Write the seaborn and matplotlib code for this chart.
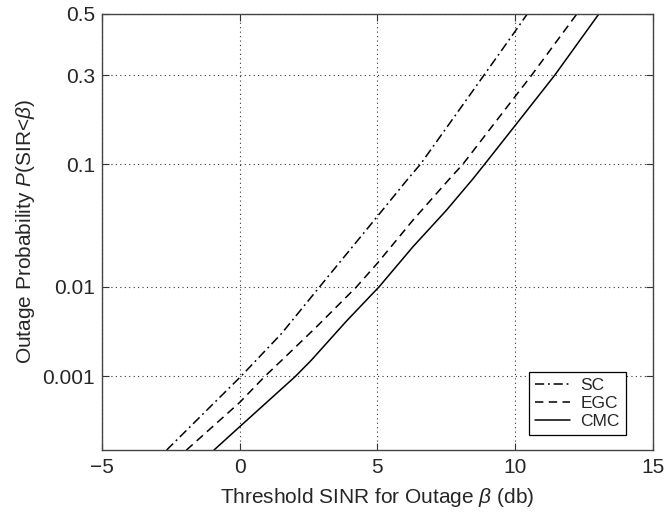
import numpy as np
import pandas as pd
import matplotlib
matplotlib.use("Agg")
import matplotlib.pyplot as plt
import seaborn as sns
from statistics import NormalDist

# ---- data ----
sc_x = [-2.65, 0.05, 1.52, 2.91, 4.0, 5.0, 6.12, 6.57, 8.87, 10.0, 10.45]
sc_p = [1e-4, 1e-3, 3.2e-3, 0.01, 0.022, 0.042, 0.08, 0.1, 0.3, 0.44, 0.5]

egc_x = [-1.93, 0.0, 0.92, 1.64, 2.79, 4.25, 5.0, 6.30, 7.63, 8.11, 10.0, 10.60, 12.25]
egc_p = [1e-4, 4.6e-4, 1e-3, 1.7e-3, 3.8e-3, 0.01, 0.0167, 0.0394, 0.08, 0.1, 0.24, 0.3, 0.5]

cmc_x = [-0.93, 0.0, 2.03, 2.61, 3.88, 5.07, 6.30, 7.51, 8.48, 8.90, 10.0, 11.44, 13.05]
cmc_p = [1e-4, 2.15e-4, 1e-3, 1.58e-3, 4.4e-3, 0.01, 0.0236, 0.047, 0.08, 0.1, 0.17, 0.3, 0.5]

series_names = ["SC", "EGC", "CMC"]
y_ticks = [0.001, 0.01, 0.1, 0.3, 0.5]
y_ticklabels = ["0.001", "0.01", "0.1", "0.3", "0.5"]
x_ticks = [-5, 0, 5, 10, 15]

df = pd.concat([
    pd.DataFrame({"x": sc_x, "p": sc_p, "series": "SC"}),
    pd.DataFrame({"x": egc_x, "p": egc_p, "series": "EGC"}),
    pd.DataFrame({"x": cmc_x, "p": cmc_p, "series": "CMC"}),
], ignore_index=True)

# ---- normal-probability (probit) scale ----
_nd = NormalDist()

def _ppf(v):
    if not np.isfinite(v) or v <= 0 or v >= 1:
        return np.nan
    return _nd.inv_cdf(v)

def _cdf(z):
    if not np.isfinite(z):
        return np.nan
    return _nd.cdf(z)

fwd = np.vectorize(_ppf, otypes=[float])
inv = np.vectorize(_cdf, otypes=[float])

sns.set_theme(style="white")
plt.rcParams["font.family"] = ["Liberation Sans", "DejaVu Sans"]
plt.rcParams["mathtext.fontset"] = "custom"
plt.rcParams["mathtext.rm"] = "Liberation Sans"
plt.rcParams["mathtext.it"] = "Liberation Sans:italic"

fig, ax = plt.subplots(figsize=(6.66, 5.12), dpi=100)
fig.subplots_adjust(left=0.153, right=0.980, top=0.973, bottom=0.121)

styles = {
    "SC": (0, (6, 2.5, 1.2, 2.5)),
    "EGC": (0, (5.5, 3.5)),
    "CMC": "-",
}
for name in series_names:
    sub = df[df["series"] == name]
    sns.lineplot(data=sub, x="x", y="p", ax=ax, color="black", lw=1.1,
                 linestyle=styles[name], label=name, estimator=None, sort=False)

ax.set_yscale("function", functions=(fwd, inv))
ax.set_xlim(-5, 15)
ax.set_ylim(1e-4, 0.5)
ax.set_xticks(x_ticks)
ax.set_yticks(y_ticks)
ax.set_yticklabels(y_ticklabels)
ax.yaxis.set_minor_locator(matplotlib.ticker.NullLocator())
ax.xaxis.set_minor_locator(matplotlib.ticker.NullLocator())

ax.grid(True, which="major", linestyle=(0, (1, 3)), color="#333333", lw=0.8)
ax.tick_params(axis="both", which="major", direction="in", length=5,
               width=0.8, color="#333333", labelsize=15, pad=6,
               top=True, right=True, bottom=True, left=True)
ax.tick_params(axis="y", pad=5)
for s in ax.spines.values():
    s.set_color("#444444")
    s.set_linewidth(1.0)

ax.set_xlabel(r"Threshold SINR for Outage $\beta$ (db)", fontsize=15, labelpad=6)
ax.set_ylabel(r"Outage Probability $P$(SIR<$\beta$)", fontsize=15, labelpad=4)

leg = ax.legend(loc="lower right", bbox_to_anchor=(0.951, 0.035),
                fontsize=12.5, frameon=True, fancybox=False, framealpha=1,
                edgecolor="black", handlelength=2.0, handletextpad=0.6,
                labelspacing=0.15, borderpad=0.35, borderaxespad=0)
leg.get_frame().set_linewidth(0.9)

fig.savefig("out.png", dpi=100)
